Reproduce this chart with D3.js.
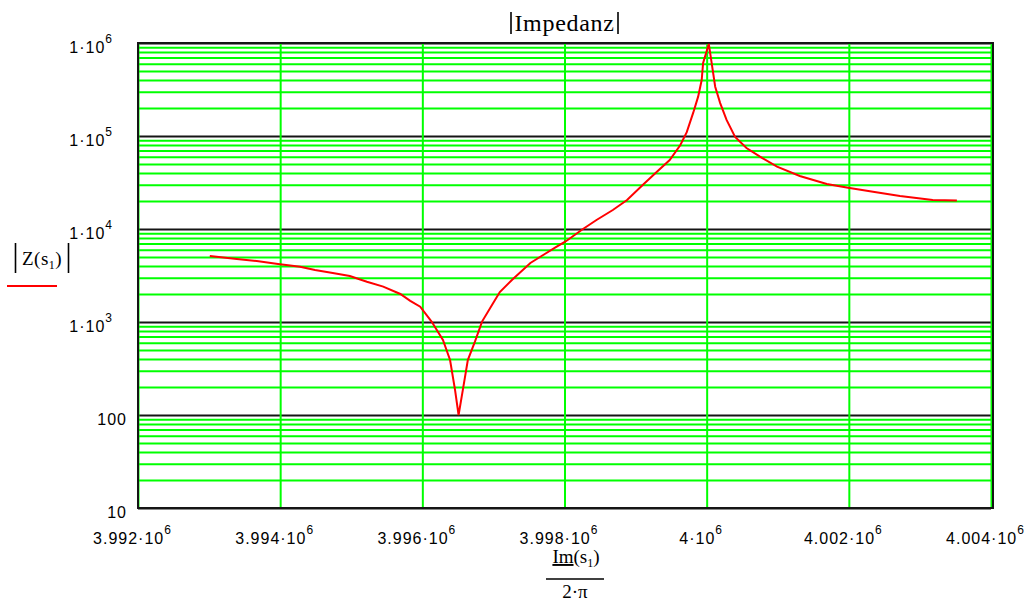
<!DOCTYPE html>
<html>
<head>
<meta charset="utf-8">
<script src="https://cdn.jsdelivr.net/npm/d3@7"></script>
<style>
  body { margin: 0; background: #fff; }
</style>
</head>
<body>
<svg id="chart" width="1027" height="603"></svg>
<script>
// values
const freqHz = [3993010, 3993390, 3993670, 3993970, 3994280, 3994490, 3994740, 3994980, 3995220, 3995450,
  3995690, 3995830, 3995970, 3996130, 3996290, 3996390, 3996460, 3996510, 3996570, 3996640,
  3996740, 3996840, 3996980, 3997090, 3997260, 3997520, 3997700, 3997890, 3998010, 3998260,
  3998450, 3998680, 3998880, 3999100, 3999300, 3999480, 3999630, 3999720, 3999810, 3999880,
  3999930, 3999950, 4000030, 4000070, 4000120, 4000190, 4000280, 4000400, 4000560, 4000750,
  4000990, 4001310, 4001690, 4001990, 4002340, 4002720, 4003180, 4003520];
const impedance = [5130, 4760, 4530, 4210, 3930, 3620, 3370, 3120, 2710, 2400,
  2000, 1690, 1460, 1010, 640, 390, 186, 100, 186, 390,
  614, 1010, 1520, 2100, 2830, 4310, 5250, 6450, 7300, 10000,
  12500, 16000, 20500, 29700, 41300, 55200, 80000, 110000, 177000, 265000,
  400000, 610000, 975000, 610000, 339000, 226000, 149000, 97500, 74300, 59900,
  46800, 37200, 30500, 27800, 25200, 22700, 20500, 20200];

const xTicks = [3992000, 3994000, 3996000, 3998000, 4000000, 4002000, 4004000];
const xTickMant = ["3.992", "3.994", "3.996", "3.998", "4", "4.002", "4.004"];
const xTickExp = ["6", "6", "6", "6", "6", "6", "6"];
const yTicks = [10, 100, 1000, 10000, 100000, 1000000];
const yTickMant = ["10", "100", "1", "1", "1", "1"];
const yTickExp = ["", "", "3", "4", "5", "6"];

const plot = { left: 138, right: 991, top: 43, bottom: 508 };
const sansFont = "'Liberation Sans', Arial, sans-serif";
const serifFont = "'Liberation Serif', 'Times New Roman', serif";

const svg = d3.select("#chart");

const x = d3.scaleLinear()
  .domain([xTicks[0], xTicks[xTicks.length - 1]])
  .range([plot.left, plot.right]);
const y = d3.scaleLog()
  .domain([yTicks[0], yTicks[yTicks.length - 1]])
  .range([plot.bottom, plot.top]);

const w = plot.right - plot.left;
const h = plot.bottom - plot.top;

// minor grid (2..9 of each decade), green
const minor = y.ticks().filter(v => !yTicks.some(t => Math.abs(t - v) < t * 1e-6));
svg.append("g")
  .attr("transform", `translate(${plot.left},0)`)
  .call(d3.axisLeft(y).tickValues(minor).tickSize(-w).tickFormat(""))
  .call(g => g.select(".domain").remove())
  .selectAll("line")
  .attr("stroke", "#00ff00")
  .attr("stroke-width", 2);

// decade lines, black
svg.append("g")
  .attr("transform", `translate(${plot.left},0)`)
  .call(d3.axisLeft(y).tickValues(yTicks).tickSize(-w).tickFormat(""))
  .call(g => g.select(".domain").remove())
  .selectAll("line")
  .attr("stroke", "#151515")
  .attr("stroke-width", 2);

// vertical grid, green
svg.append("g")
  .attr("transform", `translate(0,${plot.bottom})`)
  .call(d3.axisBottom(x).tickValues(xTicks).tickSize(-h).tickFormat(""))
  .call(g => g.select(".domain").remove())
  .selectAll("line")
  .attr("stroke", "#00ff00")
  .attr("stroke-width", 2);

// frame
svg.append("rect")
  .attr("x", plot.left)
  .attr("y", plot.top)
  .attr("width", w + 2)
  .attr("height", h)
  .attr("fill", "none")
  .attr("stroke", "#151515")
  .attr("stroke-width", 2);

// y tick labels
const yAxis = svg.append("g")
  .attr("transform", `translate(${plot.left},0)`)
  .call(d3.axisLeft(y).tickValues(yTicks).tickSize(0).tickPadding(11)
    .tickFormat(d => {
      const i = yTicks.indexOf(d);
      return yTickExp[i] ? yTickMant[i] + "·10" : yTickMant[i];
    }));
yAxis.select(".domain").remove();
yAxis.selectAll("text")
  .attr("font-family", sansFont)
  .attr("font-size", 16)
  .attr("fill", "#000")
  .attr("dy", 9)
  .attr("letter-spacing", 1)
  .each(function(d) {
    const i = yTicks.indexOf(d);
    if (yTickExp[i]) {
      d3.select(this).attr("x", -25)
        .append("tspan").attr("dy", -10).attr("font-size", 12).text(yTickExp[i]);
    }
  });

// x tick labels
const xAxis = svg.append("g")
  .attr("transform", `translate(0,${plot.bottom})`)
  .call(d3.axisBottom(x).tickValues(xTicks).tickSize(0).tickPadding(0)
    .tickFormat(d => xTickMant[xTicks.indexOf(d)] + "·10"));
xAxis.select(".domain").remove();
xAxis.selectAll("text")
  .attr("font-family", sansFont)
  .attr("font-size", 16)
  .attr("fill", "#000")
  .attr("y", 36)
  .attr("dy", 0)
  .attr("dx", -6)
  .attr("letter-spacing", 1)
  .each(function(d) {
    d3.select(this).append("tspan").attr("dy", -10).attr("font-size", 12)
      .text(xTickExp[xTicks.indexOf(d)]);
  });

// curve
const line = d3.line()
  .x((d, i) => x(freqHz[i]))
  .y(d => y(d));
svg.append("path")
  .datum(impedance)
  .attr("d", line)
  .attr("fill", "none")
  .attr("stroke", "#ff0000")
  .attr("stroke-width", 2);

// title |Impedanz|
svg.append("text")
  .attr("x", 564.5)
  .attr("y", 31)
  .attr("text-anchor", "middle")
  .attr("font-family", serifFont)
  .attr("font-size", 24)
  .attr("letter-spacing", 0.7)
  .attr("fill", "#000")
  .text("Impedanz");
svg.append("line").attr("x1", 511).attr("x2", 511).attr("y1", 12).attr("y2", 34)
  .attr("stroke", "#000").attr("stroke-width", 1.6);
svg.append("line").attr("x1", 618).attr("x2", 618).attr("y1", 12).attr("y2", 34)
  .attr("stroke", "#000").attr("stroke-width", 1.6);

// y label |Z(s1)| with legend line
const yl = svg.append("text")
  .attr("x", 22)
  .attr("y", 265)
  .attr("font-family", serifFont)
  .attr("font-size", 19)
  .attr("letter-spacing", 0.5)
  .attr("fill", "#000");
yl.append("tspan").text("Z(s");
yl.append("tspan").attr("dy", 4).attr("font-size", 12).text("1");
yl.append("tspan").attr("dy", -4).text(")");
svg.append("line").attr("x1", 15.5).attr("x2", 15.5).attr("y1", 243).attr("y2", 273)
  .attr("stroke", "#000").attr("stroke-width", 1.6);
svg.append("line").attr("x1", 68.5).attr("x2", 68.5).attr("y1", 243).attr("y2", 273)
  .attr("stroke", "#000").attr("stroke-width", 1.6);
svg.append("line").attr("x1", 7).attr("x2", 57).attr("y1", 286).attr("y2", 286)
  .attr("stroke", "#ff0000").attr("stroke-width", 2);

// x label Im(s1) / 2·π
const xl = svg.append("text")
  .attr("x", 576)
  .attr("y", 563)
  .attr("text-anchor", "middle")
  .attr("font-family", serifFont)
  .attr("font-size", 19)
  .attr("fill", "#000");
xl.append("tspan").attr("text-decoration", "underline").text("Im");
xl.append("tspan").text("(s");
xl.append("tspan").attr("dy", 4).attr("font-size", 12).text("1");
xl.append("tspan").attr("dy", -4).text(")");
svg.append("line").attr("x1", 546).attr("x2", 604).attr("y1", 579).attr("y2", 579)
  .attr("stroke", "#000").attr("stroke-width", 1.5);
svg.append("text")
  .attr("x", 575)
  .attr("y", 598)
  .attr("text-anchor", "middle")
  .attr("font-family", serifFont)
  .attr("font-size", 19)
  .attr("fill", "#000")
  .text("2·π");
</script>
</body>
</html>
